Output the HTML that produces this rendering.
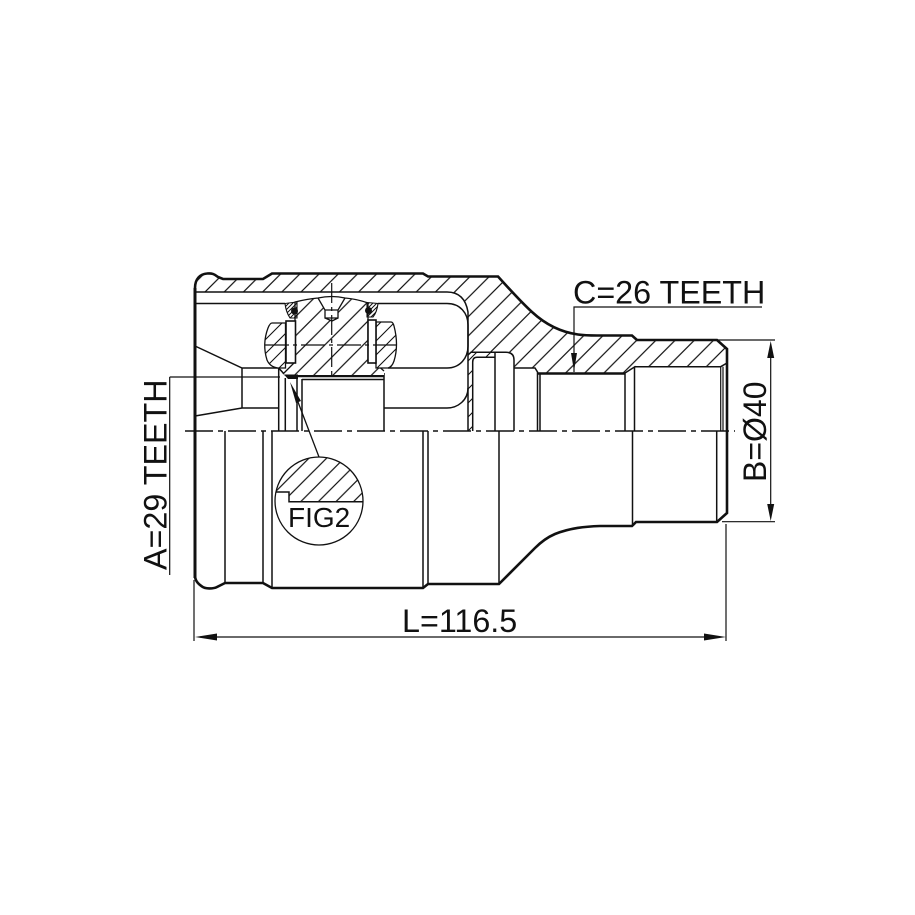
<!DOCTYPE html>
<html><head><meta charset="utf-8"><style>
html,body{margin:0;padding:0;background:#fff}
svg{display:block}
text{font-family:"Liberation Sans",Arial,sans-serif;fill:#111}
</style></head><body>
<svg width="915" height="915" viewBox="0 0 915 915" xmlns="http://www.w3.org/2000/svg">
<defs>
<pattern id="h1" patternUnits="userSpaceOnUse" width="19.2" height="19.2" patternTransform="translate(17,0)"><path d="M-2,21.2L21.2,-2M-2,2L2,-2M17.2,21.2L21.2,17.2" stroke="#111" stroke-width="1.2" fill="none"/></pattern>
<pattern id="h2" patternUnits="userSpaceOnUse" width="14" height="14" patternTransform="translate(3,0)"><path d="M-2,16L16,-2M-2,2L2,-2M12,16L16,12" stroke="#111" stroke-width="1.1" fill="none"/></pattern>
<pattern id="h3" patternUnits="userSpaceOnUse" width="17.6" height="17.6" patternTransform="translate(10.4,0)"><path d="M-2,19.6L19.6,-2M-2,2L2,-2M15.6,19.6L19.6,15.6" stroke="#111" stroke-width="1.2" fill="none"/></pattern>
<pattern id="h4" patternUnits="userSpaceOnUse" width="4" height="4"><path d="M-1,5L5,-1M-1,1L1,-1M3,5L5,3" stroke="#111" stroke-width="1" fill="none"/></pattern>
</defs>

<!-- body outline fill + hatched section -->
<path d="M195,431 V288 C195,279 200,274 207,273.5 C212,273 214,274 218,277 L223,279 H263 L272,273.5 H423 L428,276.5 H498 C512,292 522,303 532,312 C545,324 560,332 578,334.5 C585,335.5 590,335.5 597,335.5 H632 L637,340 H717 L727,349 V513 L717,522 H636 L632,526 H600 C585,526.5 570,528 555,534 C548,537 542,541 535,548 L499,584 H428 L423,588 H272 L263,583 H225 L217,587 C213,589 205,589 202,586.5 C197,583 195,580 195,575 Z" fill="#fff"/>
<path fill="url(#h1)" d="M195,292 V288 C195,279 200,274 207,273.5 C212,273 214,274 218,277 L223,279 H263 L272,273.5 H423 L428,276.5 H498 C512,292 522,303 532,312 C545,324 560,332 578,334.5 C585,335.5 590,335.5 597,335.5 H632 L637,340 H717 L727,349 V363 L720.700,366.700 H635 L625,373 H539 L535,368 H514 V360 Q514,352.300 506,352.300 H471 L468,355 V312 C466,300 460,292 447,292 Z"/>
<path fill="url(#h2)" d="M468,355 L471,352.300 H495 V357.300 H477 Q472.700,357.300 472.700,362 V431 H468 Z"/>

<g fill="none" stroke="#111" stroke-width="1.5">
<!-- inner lines -->
<path d="M195,292 H447 C460,292 466,300 468,312 V431"/>
<path d="M195,303.5 H285 M378,303.5 H447 C460,303.5 468,313 468,325 V346 C468,358 460,368 447,368 H388"/>
<path d="M195,346 L242,368 H278.700 L285,375 M195,416 L242,408 H278.700 M242,368 V408"/>
<path d="M384,408 H447 C458,408 468,400 468,388"/>
<path d="M278.700,368 V431 M285.300,378 V431 M297,378 V431 M302,379 V431 M384,373 V431"/>
<path d="M468,355 L471,352.300 H506 Q514,352.300 514,360 V431"/>
<path d="M472.700,431 V362 Q472.700,357.300 477,357.300 H495"/>
<path d="M495,431 V352.300"/>
<path d="M514,368 H535 L537.500,372 V431 M540,431 V373"/>
<path d="M625,431 V373 L634.500,367 V431 M634.500,366.700 H720.700 L727,363"/>
<path d="M720.700,366.700 V431 M723,366.700 V431" stroke-width="1.200"/>
<!-- lower verticals -->
<path d="M225,431 V583 M263,431 V583 M272,431 V588 M423,431 V588 M428,431 V584 M499,431 V584 M632.500,431 V526 M716.700,431 V522"/>
<path d="M297,376 H384" stroke-width="2.600"/>
<path d="M302,379.500 H384"/>
</g>

<!-- central ball -->
<path d="M295,302 Q307,299 318,298 L325,310 V318 H338 V310 L345,298 Q357,299 368,303 V362 L375,363 L384,373 V375 H284 L283,374 L295,362 Z" fill="#fff"/>
<path d="M295,302 Q307,299 318,298 L325,310 V318 L332,321 L338,318 V310 L345,298 Q357,299 368,303 V362 L375,363 L384,373 V375 H284 L283,374 L295,362 Z" fill="url(#h1)"/>
<path d="M283,374 L295,362 V302 Q307,299 318,298 Q332,295 345,298 Q357,299 368,303 V362 M375,363 L384,371 M318,298 L325,310 V318 H338 V310 L345,298 M325,318 L332,321 L338,318 M325,310 H338" fill="none" stroke="#111" stroke-width="1.300"/>
<!-- rollers -->
<path d="M285.500,323 H272 Q270,323 268,328 Q262,344 267,360 Q270,367 278,368 H285.500 Z" fill="#fff"/>
<path d="M285.500,323 H272 Q270,323 268,328 Q262,344 267,360 Q270,367 278,368 H285.500 Z" fill="url(#h2)" stroke="#111" stroke-width="1.300"/>
<path d="M376,322 H391 Q393,322 394,326 Q399,345 394,361 Q392,367 388,368 H376 Z" fill="#fff"/>
<path d="M376,322 H391 Q393,322 394,326 Q399,345 394,361 Q392,367 388,368 H376 Z" fill="url(#h2)" stroke="#111" stroke-width="1.300"/>
<rect x="286" y="321" width="9.500" height="42" fill="#fff" stroke="#111" stroke-width="1.600"/>
<rect x="368" y="320" width="8" height="43" fill="#fff" stroke="#111" stroke-width="1.600"/>
<!-- seals -->
<path d="M285,303.500 L297,302 V318 H290 Q286,312 285,303.500 Z" fill="url(#h4)" stroke="#111" stroke-width="1.100"/>
<path d="M367,302.500 L378,303.500 Q377,312 373,317 H367 Z" fill="url(#h4)" stroke="#111" stroke-width="1.100"/>
<circle cx="294.500" cy="311" r="3.500" fill="#111"/>
<circle cx="368.500" cy="310.500" r="3.500" fill="#111"/>
<path d="M284,374.500 H298 V379 H288 Z" fill="#111"/>

<!-- outer thick outline -->
<path d="M195,578 V288 C195,279 200,274 207,273.500 C212,273 214,274 218,277 L223,279 H263 L272,273.500 H423 L428,276.500 H498 C512,292 522,303 532,312 C545,324 560,332 578,334.500 C585,335.500 590,335.500 597,335.500 H632 L637,340 H717 L727,349 V513 L717,522 H636 L632,526 H600 C585,526.500 570,528 555,534 C548,537 542,541 535,548 L499,584 H428 L423,588 H272 L263,583 H225 L217,587 C213,589 205,589 202,586.500 C197,583 195,580 195,575" fill="none" stroke="#111" stroke-width="2.600"/>
<path d="M195,288 V578" fill="none" stroke="#111" stroke-width="3"/>
<path d="M538,373.500 H625" stroke="#111" stroke-width="2.400" fill="none"/>

<!-- centre lines -->
<path d="M185,431 H735" stroke="#111" stroke-width="1.400" fill="none" stroke-dasharray="28 5 5 5"/>
<path d="M265,345 H397" stroke="#111" stroke-width="1.200" fill="none" stroke-dasharray="24 4 4 4"/>
<path d="M331.700,283 V375" stroke="#111" stroke-width="1.200" fill="none" stroke-dasharray="20 4 4 4"/>

<!-- FIG2 -->
<circle cx="319" cy="501" r="44" fill="#fff" stroke="#111" stroke-width="1.300"/>
<path d="M276,492 H289 V501.700 H363 A44,44 0 0 0 276,492 Z" fill="url(#h3)"/>
<path d="M276,492 H289 V501.700 H363" fill="none" stroke="#111" stroke-width="1.500"/>
<text x="288" y="527" font-size="28">FIG2</text>

<!-- leader -->
<path d="M319,457 L298,402" stroke="#111" stroke-width="1.300" fill="none"/>
<path d="M290,382 L301,401 L296,403 Z" fill="#111"/>

<!-- dimensions -->
<g stroke="#111" stroke-width="1.200" fill="none">
<path d="M194,580 V641 M726,524 V641 M200,637 H720"/>
<path d="M717,340 H775 M722,521.700 H775 M770.700,345 V517"/>
<path d="M574,372 V307 H762"/>
<path d="M169.700,377 H280 M169.700,377 V575"/>
</g>
<path d="M195,637 L217,633.500 V640.500 Z M726,637 L704,633.500 V640.500 Z M770.700,341 L767.200,358 H774.200 Z M770.700,521 L767.200,504 H774.200 Z M574,371 L571,353 H577 Z" fill="#111"/>

<text x="573" y="303.300" font-size="32.300">C=26 TEETH</text>
<text x="402" y="632" font-size="32.300">L=116.5</text>
<text transform="translate(766,482) rotate(-90)" font-size="32">B=Ø40</text>
<text transform="translate(166.700,570) rotate(-90)" font-size="32.300">A=29 TEETH</text>
</svg>
</body></html>
